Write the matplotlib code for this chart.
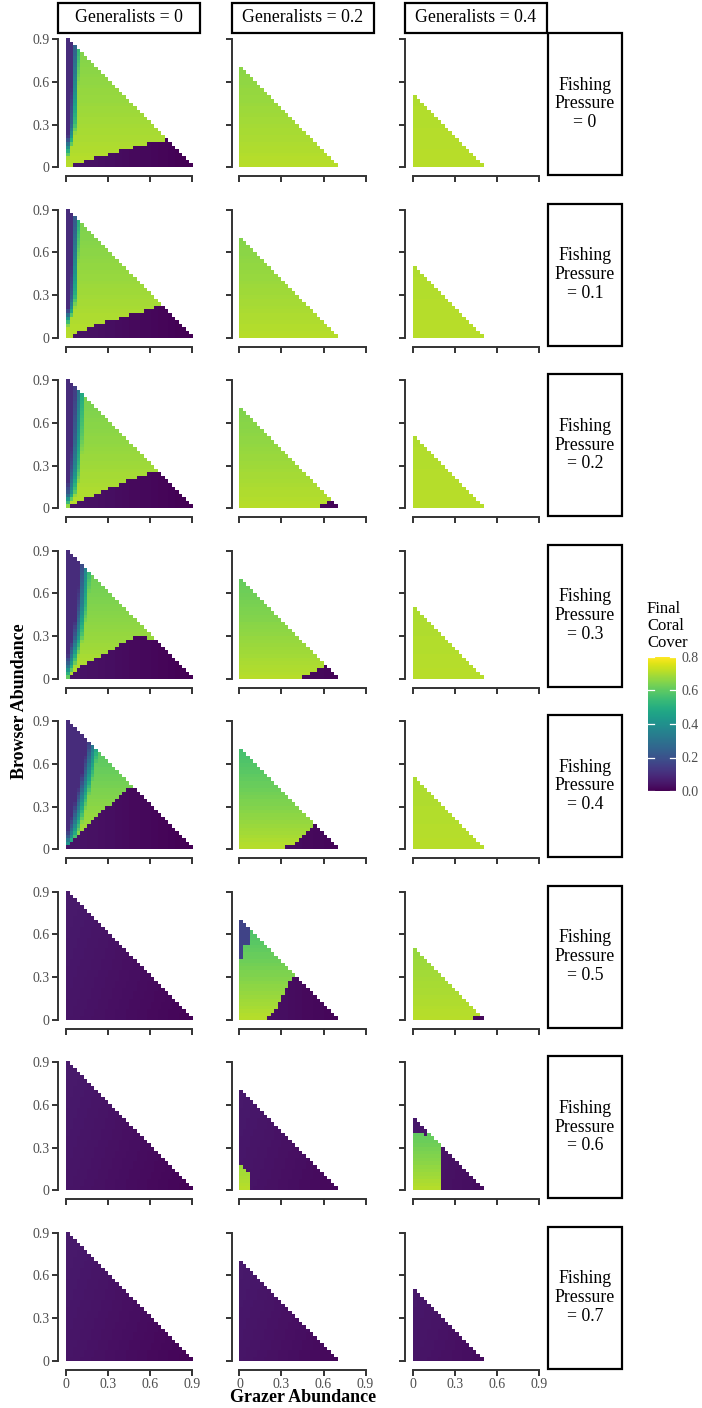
import numpy as np
import matplotlib
matplotlib.use("Agg")
import matplotlib.pyplot as plt
from matplotlib.patches import Rectangle
from matplotlib.cm import ScalarMappable
from matplotlib.colors import Normalize

plt.rcParams["font.family"] = ["Liberation Serif", "DejaVu Serif"]

W, H = 702, 1408

generalists = [0, 0.2, 0.4]
fishing = [0, 0.1, 0.2, 0.3, 0.4, 0.5, 0.6, 0.7]
cell = 0.025          # grid step of grazer / browser abundance
max_total = 0.9       # grazers + browsers + generalists <= 0.9
ticks = [0, 0.3, 0.6, 0.9]
tick_labels = ["0", "0.3", "0.6", "0.9"]
cbar_ticks = [0.0, 0.2, 0.4, 0.6, 0.8]

# healthy (green) coral cover at browser = 0 and its drop per unit browser
healthy_base = 0.715
healthy_drop = [
    [0.08, 0.08, 0.02],
    [0.09, 0.09, 0.02],
    [0.10, 0.10, 0.02],
    [0.13, 0.15, 0.03],
    [0.18, 0.22, 0.03],
    [0.20, 0.22, 0.08],
    [0.20, 0.20, 0.28],
    [0.20, 0.20, 0.20],
]
# collapsed (purple) cover at grazer = 0 and grazer = 0.9
collapsed_left = 0.045
collapsed_right = 0.008
wedge_left = 0.045
wedge_right = 0.0
band_low = 0.10
cap_cover = 0.16

# panels that are collapsed everywhere (except pockets below)
collapsed = [
    [False, False, False],
    [False, False, False],
    [False, False, False],
    [False, False, False],
    [False, False, False],
    [True, False, False],
    [True, True, True],
    [True, True, True],
]

# generalists = 0, fishing 0-0.4: browser-held band on the left edge.
# grazer value at the middle of the transition, read at these browser levels
band_browser = [0.0, 0.1, 0.2, 0.3, 0.5, 0.8]
band_mid = [
    [-0.03, 0.0, 0.033, 0.05, 0.06, 0.073],
    [-0.03, -0.005, 0.037, 0.053, 0.062, 0.075],
    [-0.03, 0.035, 0.055, 0.068, 0.082, 0.095],
    [-0.02, 0.03, 0.06, 0.085, 0.115, 0.14],
    [-0.01, 0.045, 0.075, 0.10, 0.15, 0.21],
]
band_width = [0.05, 0.05, 0.08, 0.08, 0.09]

# upper edge (grazer, browser) of the collapsed wedge at high grazer abundance
wedge_g0 = [
    [(0.05, 0.025), (0.16, 0.045), (0.23, 0.07), (0.34, 0.098), (0.41, 0.124),
     (0.52, 0.145), (0.62, 0.172), (0.7, 0.19)],
    [(0.04, 0.026), (0.124, 0.047), (0.18, 0.077), (0.26, 0.105), (0.34, 0.128),
     (0.41, 0.154), (0.52, 0.175), (0.6, 0.2), (0.68, 0.23)],
    [(0.025, 0.016), (0.08, 0.044), (0.16, 0.075), (0.21, 0.093), (0.26, 0.12),
     (0.33, 0.145), (0.39, 0.172), (0.46, 0.198), (0.52, 0.22), (0.6, 0.25), (0.7, 0.28)],
    [(0.025, 0.023), (0.05, 0.044), (0.1, 0.075), (0.124, 0.1), (0.176, 0.124),
     (0.23, 0.15), (0.28, 0.18), (0.33, 0.2), (0.36, 0.226), (0.41, 0.25),
     (0.46, 0.277), (0.52, 0.303), (0.6, 0.28), (0.65, 0.26)],
    [(0.0, 0.02), (0.03, 0.047), (0.05, 0.07), (0.08, 0.093), (0.1, 0.117),
     (0.13, 0.147), (0.16, 0.17), (0.18, 0.2), (0.23, 0.245), (0.29, 0.29),
     (0.34, 0.32), (0.36, 0.345), (0.385, 0.373), (0.44, 0.43), (0.5, 0.45)],
    None, None, None,
]
wedge_g02 = [
    None, None,
    [(0.575, 0.02), (0.62, 0.02), (0.63, 0.04), (0.7, 0.045)],
    [(0.46, 0.02), (0.51, 0.047), (0.57, 0.075), (0.64, 0.1), (0.7, 0.1)],
    [(0.33, 0.02), (0.36, 0.023), (0.41, 0.047), (0.44, 0.07), (0.46, 0.093),
     (0.5, 0.124), (0.52, 0.152), (0.56, 0.2)],
    [(0.2, 0.02), (0.23, 0.03), (0.26, 0.077), (0.28, 0.1), (0.31, 0.177),
     (0.34, 0.228), (0.36, 0.28), (0.4, 0.32)],
    None, None,
]
wedge_g04 = [None, None, None, None, None, [(0.435, 0.02), (0.5, 0.02)], None, None]
wedges = [wedge_g0, wedge_g02, wedge_g04]

# top-left collapsed cap: (grazer below, browser above)
cap_g02_f05 = [(0.025, 0.43), (0.075, 0.525)]
caps = {(5, 1): cap_g02_f05}

# healthy pockets inside collapsed panels: (grazer below, browser below)
pocket_g02_f06 = [(0.025, 0.175), (0.05, 0.15), (0.075, 0.125)]
pocket_g04_f06 = [(0.075, 0.4), (0.1, 0.375), (0.2, 0.9)]
pockets = {(6, 1): pocket_g02_f06, (6, 2): pocket_g04_f06}


def step_lookup(steps, x):
    out = np.full_like(x, np.nan)
    for xr, yv in reversed(steps):
        out = np.where(x < xr, yv, out)
    return out


def panel_cover(r, c):
    n_side = int(round(max_total / cell))
    n = int(round((max_total - generalists[c]) / cell))
    centers = (np.arange(n_side) + 0.5) * cell
    X, Y = np.meshgrid(centers, centers)
    idx = np.arange(n_side)
    inside = (idx[None, :] + idx[:, None]) <= n - 1

    healthy = healthy_base - healthy_drop[r][c] * Y
    low = collapsed_left - (collapsed_left - collapsed_right) * X / max_total + 0.015 * Y
    wlow = wedge_left - (wedge_left - wedge_right) * X / max_total

    if collapsed[r][c]:
        cover = low.copy()
        steps = pockets.get((r, c))
        if steps:
            top = step_lookup(steps, X)
            ok = Y < top
            cover[ok] = healthy[ok]
    else:
        cover = healthy.copy()
        if c == 0 and r < len(band_mid):
            mid = np.interp(Y, band_browser, band_mid[r])
            t = np.clip((X - mid) / band_width[r] + 0.5, 0, 1)
            cover = band_low + (healthy - band_low) * t
        steps = caps.get((r, c))
        if steps:
            bottom = step_lookup(steps, X)
            hit = Y > bottom
            cover[hit] = cap_cover
        pts = wedges[c][r]
        if pts:
            wx, wy = zip(*pts)
            edge = np.interp(X, wx, wy)
            dark = (X > wx[0]) & (Y < edge)
            cover[dark] = wlow[dark]
    return np.where(inside, cover, np.nan)


def fx(px):
    return px / W


def fy(py):
    return 1 - py / H


fig = plt.figure(figsize=(W / 100, H / 100), dpi=100)
axis_col = "#333333"
lab_col = "#4d4d4d"

for r in range(len(fishing)):
    for c in range(len(generalists)):
        left = 58 + 173.5 * c
        top = 33 + 170.5 * r
        ax = fig.add_axes([fx(left), fy(top + 143), 142 / W, 143 / H])
        ax.imshow(panel_cover(r, c), extent=(0, max_total, 0, max_total), origin="lower",
                  cmap="viridis", vmin=0, vmax=0.8, interpolation="nearest", aspect="auto")
        ax.set_xlim(-0.057, 0.957)
        ax.set_ylim(-0.06, 0.943)
        for side in ("top", "right"):
            ax.spines[side].set_visible(False)
        for side in ("left", "bottom"):
            ax.spines[side].set_bounds(0, 0.9)
            ax.spines[side].set_linewidth(1.4)
            ax.spines[side].set_color(axis_col)
        ax.set_xticks(ticks)
        ax.set_yticks(ticks)
        ax.set_xticklabels(tick_labels)
        ax.set_yticklabels(tick_labels)
        ax.tick_params(length=4, width=1.4, color=axis_col, labelsize=10,
                       labelcolor=lab_col, pad=2,
                       labelleft=(c == 0), labelbottom=(r == len(fishing) - 1))

        if r == 0:
            fig.add_artist(Rectangle((fx(left), fy(32.5)), 142 / W, 29 / H,
                                     transform=fig.transFigure, facecolor="white",
                                     edgecolor="black", linewidth=1.6))
            fig.text(fx(left + 71), fy(18), f"Generalists = {generalists[c]:g}",
                     ha="center", va="center", fontsize=12.8)
        if c == len(generalists) - 1:
            fig.add_artist(Rectangle((fx(547.5), fy(top + 142)), 74.5 / W, 142 / H,
                                     transform=fig.transFigure, facecolor="white",
                                     edgecolor="black", linewidth=1.6))
            fig.text(fx(585), fy(top + 71), f"Fishing\nPressure\n= {fishing[r]:g}",
                     ha="center", va="center", fontsize=12.8, linespacing=1.15)

fig.text(fx(20), fy(701), "Browser Abundance", rotation=90, ha="center", va="center",
         fontsize=13, fontweight="bold")
fig.text(fx(303), fy(1398), "Grazer Abundance", ha="center", va="center",
         fontsize=13, fontweight="bold")

cax = fig.add_axes([fx(648), fy(791), 28 / W, 134 / H])
sm = ScalarMappable(norm=Normalize(0, 0.8), cmap="viridis")
cb = fig.colorbar(sm, cax=cax, ticks=cbar_ticks)
cb.outline.set_visible(False)
cax.set_yticklabels([f"{v:.1f}" for v in cbar_ticks])
cax.tick_params(length=0, labelsize=10, labelcolor=lab_col, pad=4)
for v in cbar_ticks:
    cax.plot([0, 0.2], [v, v], color="white", lw=0.9, transform=cax.get_yaxis_transform())
    cax.plot([0.8, 1.0], [v, v], color="white", lw=0.9, transform=cax.get_yaxis_transform())
fig.text(fx(647), fy(651), "Final\nCoral\nCover", ha="left", va="bottom", fontsize=12,
         linespacing=1.1)

fig.savefig("out.png", dpi=100)
